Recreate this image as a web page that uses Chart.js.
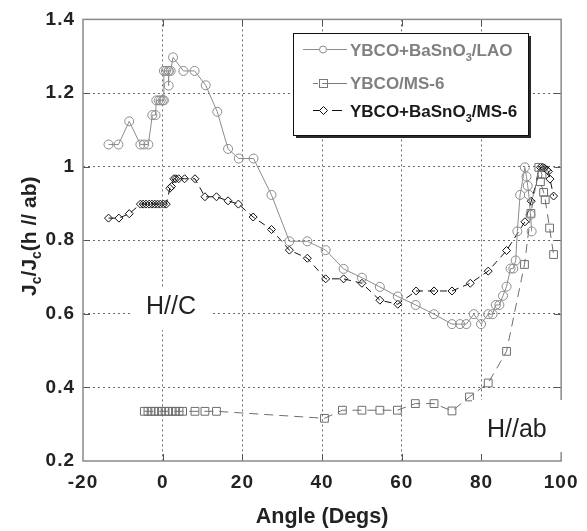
<!DOCTYPE html>
<html><head><meta charset="utf-8">
<script src="https://cdn.jsdelivr.net/npm/chart.js@4.4.1/dist/chart.umd.min.js"></script>
<style>html,body{margin:0;padding:0;background:#fff;}#wrap{width:587px;height:531px;}</style>
</head><body><div id="wrap"><canvas id="c" width="587" height="531"></canvas></div>
<script>
// ---- data ----
const xTicks = [-20, 0, 20, 40, 60, 80, 100];
const yTicks = [0.2, 0.4, 0.6, 0.8, 1.0, 1.2, 1.4];
const yTickLabels = ['0.2', '0.4', '0.6', '0.8', '1', '1.2', '1.4'];

const laoAngle = [-13.6,-11.1,-8.4,-5.6,-4.7,-3.6,-2.6,-1.8,-1.6,-1.0,-0.5,0.0,0.3,0.3,0.8,1.5,1.5,1.5,2.0,2.6,5.2,8.0,10.8,13.7,16.4,19.1,22.8,27.3,31.8,36.3,40.9,45.4,50.0,54.5,59.0,63.5,68.1,72.6,74.6,76.2,78.1,79.9,81.7,82.8,83.6,84.5,85.4,86.3,87.3,88.0,88.6,89.0,89.7,90.9,91.3,91.6,91.9,92.3,92.6];
const laoJc    = [1.06,1.06,1.123,1.06,1.06,1.06,1.14,1.14,1.18,1.18,1.18,1.18,1.18,1.26,1.26,1.26,1.22,1.26,1.26,1.297,1.26,1.26,1.221,1.149,1.048,1.022,1.022,0.923,0.797,0.797,0.773,0.722,0.698,0.673,0.647,0.624,0.599,0.572,0.572,0.572,0.599,0.572,0.599,0.599,0.624,0.624,0.649,0.674,0.723,0.723,0.745,0.824,0.923,0.998,0.973,0.948,0.923,0.869,0.824];

const ms6Angle = [-4.6,-3.7,-2.9,-2.0,-1.1,-0.3,0.6,1.5,2.4,3.2,4.1,5.0,8.1,10.6,13.5,40.6,45.1,50.0,54.5,58.9,63.4,68.1,72.6,77.0,81.7,86.3,90.8,92.4,94.4,95.2,94.8,95.6,96.0,97.1,98.1];
const ms6Jc    = [0.335,0.335,0.335,0.335,0.335,0.335,0.335,0.335,0.335,0.335,0.335,0.335,0.335,0.335,0.335,0.316,0.338,0.338,0.338,0.338,0.356,0.356,0.336,0.374,0.412,0.498,0.734,0.873,0.998,0.979,0.959,0.93,0.91,0.833,0.761];

const bsoAngle = [-13.6,-11.0,-8.4,-5.6,-4.9,-4.2,-3.4,-2.7,-2.0,-1.3,-0.6,0.2,0.9,1.8,2.2,2.8,3.3,4.0,5.5,8.1,10.6,13.5,16.4,19.0,22.7,27.3,31.8,36.3,40.9,45.4,50.0,54.5,59.0,63.6,68.1,72.6,77.2,81.7,86.3,90.9,92.5,94.8,95.4,95.8,96.4,96.8,97.2,98.1];
const bsoJc    = [0.86,0.86,0.872,0.898,0.898,0.898,0.898,0.898,0.898,0.898,0.898,0.898,0.898,0.941,0.946,0.967,0.967,0.967,0.967,0.967,0.918,0.918,0.907,0.898,0.863,0.829,0.773,0.751,0.695,0.695,0.683,0.637,0.626,0.662,0.662,0.662,0.683,0.716,0.772,0.850,0.906,0.998,0.998,0.996,0.991,0.987,0.966,0.920];

const pts = (xs, ys) => xs.map((x, i) => ({x: x, y: ys[i]}));

const FONT = '"Liberation Sans", Arial, Helvetica, sans-serif';

const spacingPlugin = {
  id: 'spacing',
  beforeDraw(chart) { chart.ctx.letterSpacing = '1px'; }
};

const framePlugin = {
  id: 'frame',
  beforeDatasetsDraw(chart) {
    const {ctx, chartArea: a, scales} = chart;
    ctx.save();
    ctx.strokeStyle = '#555';
    ctx.lineWidth = 1;
    xTicks.slice(1, -1).forEach(v => {
      const px = Math.round(scales.x.getPixelForValue(v)) + 0.5;
      ctx.beginPath();
      ctx.moveTo(px, a.bottom); ctx.lineTo(px, a.bottom - 7);
      ctx.moveTo(px, a.top); ctx.lineTo(px, a.top + 7);
      ctx.stroke();
    });
    yTicks.slice(1, -1).forEach(v => {
      const py = Math.round(scales.y.getPixelForValue(v)) + 0.5;
      ctx.beginPath();
      ctx.moveTo(a.left, py); ctx.lineTo(a.left + 7, py);
      ctx.moveTo(a.right, py); ctx.lineTo(a.right - 7, py);
      ctx.stroke();
    });
    ctx.strokeStyle = '#8a8a8a';
    ctx.lineWidth = 1.5;
    ctx.strokeRect(a.left, a.top, a.right - a.left, a.bottom - a.top);
    ctx.restore();
  }
};

function drawRuns(ctx, runs, x, y) {
  let cx = x;
  runs.forEach(r => {
    ctx.font = 'bold ' + r[1] + 'px ' + FONT;
    ctx.fillText(r[0], cx, y + r[2]);
    cx += ctx.measureText(r[0]).width;
  });
}
function runsWidth(ctx, runs) {
  let w = 0;
  runs.forEach(r => { ctx.font = 'bold ' + r[1] + 'px ' + FONT; w += ctx.measureText(r[0]).width; });
  return w;
}

const overlayPlugin = {
  id: 'overlay',
  afterDatasetsDraw(chart) {
    const {ctx, chartArea: a} = chart;
    ctx.save();
    ctx.letterSpacing = '0px';
    // annotation boxes
    ctx.fillStyle = '#fff';
    ctx.fillRect(130, 287, 83, 43);
    ctx.fillRect(472, 400, 100, 52);
    ctx.fillStyle = '#222';
    ctx.textBaseline = 'alphabetic';
    ctx.textAlign = 'left';
    ctx.font = '25px ' + FONT;
    ctx.fillText('H//C', 146, 314);
    ctx.fillText('H//ab', 487, 437);

    // legend
    const L = 293, T = 33, W = 235, H = 102;
    ctx.fillStyle = '#2a2a2a';
    ctx.fillRect(L + 3, T + 3, W, H);
    ctx.fillStyle = '#fff';
    ctx.fillRect(L, T, W, H);
    ctx.strokeStyle = '#111';
    ctx.lineWidth = 1;
    ctx.strokeRect(L + 0.5, T + 0.5, W, H);

    ctx.strokeStyle = '#8c8c8c';
    ctx.beginPath(); ctx.moveTo(303, 49.5); ctx.lineTo(319.5, 49.5); ctx.moveTo(326.5, 49.5); ctx.lineTo(347, 49.5); ctx.stroke();
    ctx.beginPath(); ctx.arc(323, 49.5, 3.5, 0, Math.PI * 2); ctx.stroke();
    ctx.strokeStyle = '#7a7a7a';
    ctx.beginPath(); ctx.moveTo(313, 83.5); ctx.lineTo(318, 83.5); ctx.moveTo(322, 83.5); ctx.lineTo(347, 83.5); ctx.stroke();
    ctx.strokeRect(319.5, 79.5, 8, 8);
    ctx.strokeStyle = '#111';
    ctx.beginPath(); ctx.moveTo(313, 110.5); ctx.lineTo(320, 110.5); ctx.moveTo(332, 110.5); ctx.lineTo(342, 110.5); ctx.stroke();
    ctx.beginPath(); ctx.moveTo(323.5, 106.5); ctx.lineTo(327.5, 110.5); ctx.lineTo(323.5, 114.5); ctx.lineTo(319.5, 110.5); ctx.closePath(); ctx.stroke();

    ctx.fillStyle = '#808080';
    drawRuns(ctx, [['YBCO+BaSnO', 17, 0], ['3', 11, 5], ['/LAO', 17, 0]], 350, 56);
    drawRuns(ctx, [['YBCO/MS-6', 17, 0]], 350, 89);
    ctx.fillStyle = '#1a1a1a';
    drawRuns(ctx, [['YBCO+BaSnO', 17, 0], ['3', 11, 5], ['/MS-6', 17, 0]], 350, 117);

    // x title
    ctx.fillStyle = '#222';
    ctx.textAlign = 'center';
    ctx.font = 'bold 21.5px ' + FONT;
    ctx.fillText('Angle (Degs)', (a.left + a.right) / 2, 523);

    // y title
    ctx.textAlign = 'left';
    const runs = [['J', 21, 0], ['c', 14, 5], ['/J', 21, 0], ['c', 14, 5], ['(h // ab)', 21, 0]];
    const w = runsWidth(ctx, runs);
    ctx.translate(36, (a.top + a.bottom) / 2 - 4);
    ctx.rotate(-Math.PI / 2);
    drawRuns(ctx, runs, -w / 2, 0);
    ctx.restore();
  }
};

const gridColor = (ends) => (c) => (c.tick && ends.includes(c.tick.value)) ? 'rgba(0,0,0,0)' : '#6a6a6a';

new Chart(document.getElementById('c').getContext('2d'), {
  type: 'scatter',
  data: {
    datasets: [
      {label: 'YBCO+BaSnO3/LAO', data: pts(laoAngle, laoJc), showLine: true,
       borderColor: '#8c8c8c', borderWidth: 1, pointStyle: 'circle', pointRadius: 4.5,
       pointBorderColor: '#8c8c8c', pointBackgroundColor: 'rgba(0,0,0,0)', pointBorderWidth: 1},
      {label: 'YBCO/MS-6', data: pts(ms6Angle, ms6Jc), showLine: true,
       borderColor: '#6e6e6e', borderWidth: 1, borderDash: [9, 6], pointStyle: 'rect', pointRadius: 5.5,
       pointBorderColor: '#6e6e6e', pointBackgroundColor: 'rgba(0,0,0,0)', pointBorderWidth: 1},
      {label: 'YBCO+BaSnO3/MS-6', data: pts(bsoAngle, bsoJc), showLine: true,
       borderColor: '#111', borderWidth: 1, borderDash: [7, 5], pointStyle: 'rectRot', pointRadius: 4,
       pointBorderColor: '#111', pointBackgroundColor: 'rgba(0,0,0,0)', pointBorderWidth: 1}
    ]
  },
  options: {
    responsive: false, animation: false, devicePixelRatio: 1,
    layout: {padding: {top: 17, right: 19, left: 0, bottom: 0}},
    plugins: {legend: {display: false}, tooltip: {enabled: false}},
    elements: {line: {tension: 0}},
    scales: {
      x: {
        type: 'linear', min: -20, max: 100,
        afterBuildTicks: s => { s.ticks = xTicks.map(v => ({value: v})); },
        afterFit: s => { s.height = 70; },
        grid: {color: gridColor([-20, 100]), lineWidth: 1, drawTicks: false},
        border: {display: false, dash: [2, 3]},
        ticks: {font: {family: FONT, size: 19, weight: 'bold'}, color: '#222', padding: 10, maxRotation: 0,
                callback: (v) => String(v)}
      },
      y: {
        type: 'linear', min: 0.2, max: 1.4,
        afterBuildTicks: s => { s.ticks = yTicks.map(v => ({value: v})); },
        afterFit: s => { s.width = 83; },
        grid: {color: gridColor([0.2, 1.4]), lineWidth: 1, drawTicks: false},
        border: {display: false, dash: [2, 3]},
        ticks: {font: {family: FONT, size: 19, weight: 'bold'}, color: '#222', padding: 8,
                callback: (v, i) => yTickLabels[i]}
      }
    }
  },
  plugins: [spacingPlugin, framePlugin, overlayPlugin]
});
</script>
</body></html>
